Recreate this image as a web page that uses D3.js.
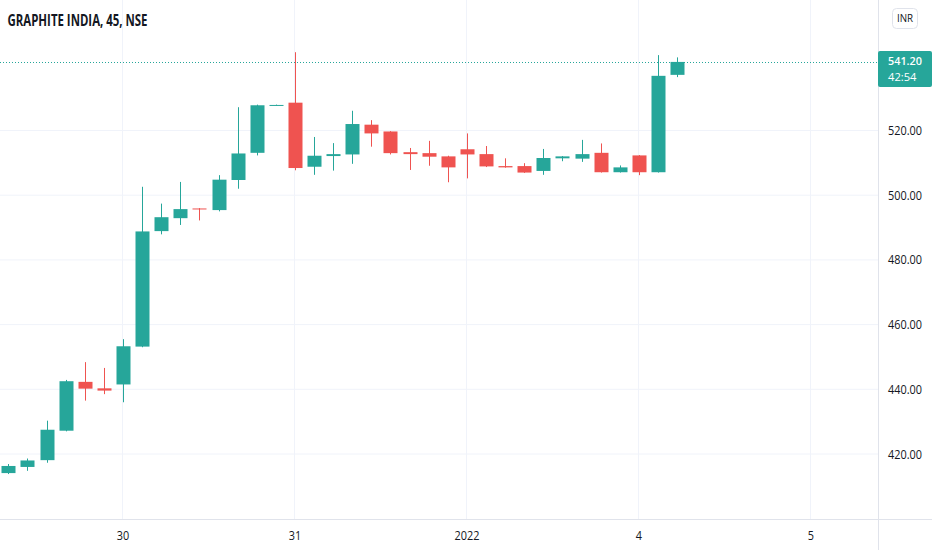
<!DOCTYPE html>
<html>
<head>
<meta charset="utf-8">
<script src="https://cdn.jsdelivr.net/npm/d3@7"></script>
<style>
  body { margin: 0; background: #fff; }
  svg { display: block; font-family: "Open Sans", "Noto Sans", sans-serif; }
</style>
</head>
<body>
<svg id="chart" width="932" height="550"></svg>
<script>
// 45 minute bars, GRAPHITE INDIA (NSE), 29 Dec 2021 -> 4 Jan 2022
const bars = [
  "29 12:15", "29 13:00", "29 13:45", "29 14:30", "29 15:15", "29 16:00",
  "30 09:15", "30 10:00", "30 10:45", "30 11:30", "30 12:15", "30 13:00", "30 13:45", "30 14:30", "30 15:15",
  "31 09:15", "31 10:00", "31 10:45", "31 11:30", "31 12:15", "31 13:00", "31 13:45", "31 14:30", "31 15:15",
  "03 09:15", "03 10:00", "03 10:45", "03 11:30", "03 12:15", "03 13:00", "03 13:45", "03 14:30", "03 15:15",
  "04 09:15", "04 10:00", "04 10:45"
];
const open  = [414.1, 416.0, 418.1, 427.2, 442.3, 440.3,
  441.5, 453.2, 488.9, 492.9, 495.9, 495.4, 504.7, 513.1, 527.8,
  528.6, 508.8, 512.1, 512.6, 521.8, 519.7, 513.3, 513.0, 512.0,
  514.2, 512.7, 509.0, 509.0, 507.5, 511.4, 511.3, 513.1, 507.1,
  512.3, 507.1, 537.2];
const high  = [416.9, 418.6, 430.3, 442.9, 448.4, 446.6,
  455.5, 502.6, 497.4, 504.1, 496.0, 506.2, 527.2, 528.0, 528.0,
  544.2, 518.0, 516.1, 526.1, 523.2, 519.8, 514.6, 516.8, 512.2,
  519.1, 515.2, 511.4, 509.9, 514.3, 512.1, 517.1, 516.0, 509.2,
  512.4, 543.3, 542.6];
const low   = [413.8, 414.8, 417.3, 427.0, 436.5, 438.5,
  436.0, 453.0, 487.9, 490.8, 492.2, 495.0, 502.0, 512.3, 527.7,
  507.7, 506.3, 507.6, 509.7, 515.0, 512.6, 507.8, 509.1, 504.0,
  505.2, 508.7, 508.5, 506.9, 506.3, 510.5, 510.3, 507.0, 507.0,
  506.2, 507.0, 536.5];
const close = [416.3, 418.0, 427.5, 442.5, 440.2, 439.6,
  453.3, 488.8, 493.2, 495.7, 495.6, 504.8, 512.9, 527.8, 527.9,
  508.4, 512.2, 512.7, 522.0, 519.1, 513.0, 512.7, 511.9, 508.6,
  512.6, 508.9, 508.6, 507.0, 511.5, 512.0, 512.7, 507.1, 508.6,
  507.1, 536.9, 541.2];

// day ticks: bar index of first session bar, label
const dayTicks = [6, 15, 24, 33, 42];
const dayLabels = ["30", "31", "2022", "4", "5"];
const priceTicks = [420, 440, 460, 480, 500, 520];
const lastPrice = 541.2;
const countdown = "42:54";

const up = "#26a69a", down = "#ef5350";
const W = 932, H = 550, plotR = 878, plotB = 519;

const svg = d3.select("#chart");

const x = d3.scaleLinear().domain([0, 42]).range([8.3, 810.9]);
const y = d3.scaleLinear().domain([420, 520]).range([454, 130.5]);

// narrow the glyphs a little, like the chart's own UI font
function squeeze(sel, k) {
  sel.each(function () {
    const w = this.getComputedTextLength();
    d3.select(this).attr("textLength", w * k).attr("lengthAdjust", "spacingAndGlyphs");
  });
}

// grid
svg.append("g").selectAll("line").data(priceTicks).join("line")
  .attr("x1", 0).attr("x2", plotR)
  .attr("y1", d => y(d)).attr("y2", d => y(d))
  .attr("stroke", "#f0f3fa").attr("stroke-width", 1);
svg.append("g").selectAll("line").data(dayTicks).join("line")
  .attr("x1", d => Math.round(x(d)) - 0.5).attr("x2", d => Math.round(x(d)) - 0.5)
  .attr("y1", 0).attr("y2", plotB)
  .attr("stroke", "#f0f3fa").attr("stroke-width", 1);

// axis borders
svg.append("line").attr("x1", 0).attr("x2", W).attr("y1", plotB + 0.5).attr("y2", plotB + 0.5)
  .attr("stroke", "#e0e3eb");
svg.append("line").attr("x1", plotR + 0.5).attr("x2", plotR + 0.5).attr("y1", 0).attr("y2", H)
  .attr("stroke", "#e0e3eb");

// last price line
svg.append("line")
  .attr("x1", 0).attr("x2", plotR)
  .attr("y1", Math.round(y(lastPrice)) + 0.5).attr("y2", Math.round(y(lastPrice)) + 0.5)
  .attr("stroke", up).attr("stroke-width", 1).attr("stroke-dasharray", "1,2");

// candles
const idx = d3.range(bars.length);
const candle = svg.append("g").selectAll("g").data(idx).join("g");
const col = i => close[i] >= open[i] ? up : down;
candle.append("line")
  .attr("x1", i => Math.round(x(i)) + 0.5).attr("x2", i => Math.round(x(i)) + 0.5)
  .attr("y1", i => y(high[i])).attr("y2", i => y(low[i]))
  .attr("stroke", col).attr("stroke-width", 1);
candle.append("rect")
  .attr("x", i => Math.round(x(i)) - 6.5)
  .attr("width", 14)
  .attr("y", i => y(Math.max(open[i], close[i])))
  .attr("height", i => Math.max(1, Math.abs(y(open[i]) - y(close[i]))))
  .attr("fill", col);

// x labels
svg.append("g").selectAll("text").data(dayTicks).join("text")
  .attr("x", d => x(d)).attr("y", 539.5)
  .attr("text-anchor", "middle")
  .attr("font-size", 12.5).attr("fill", "#131722")
  .text((d, i) => dayLabels[i])
  .call(squeeze, 0.87);

// y labels
svg.append("g").selectAll("text").data(priceTicks).join("text")
  .attr("x", 888).attr("y", d => y(d) + 4.5)
  .attr("font-size", 12.5).attr("fill", "#131722")
  .text(d => d.toFixed(2))
  .call(squeeze, 0.87);

// last price label
svg.append("rect").attr("x", 878).attr("y", 51).attr("width", 54).attr("height", 36)
  .attr("rx", 2).attr("fill", up);
svg.append("text").attr("x", 888).attr("y", 65)
  .attr("font-size", 11).attr("font-weight", 600).attr("fill", "#fff")
  .attr("textLength", 34).attr("lengthAdjust", "spacingAndGlyphs")
  .text(lastPrice.toFixed(2));
svg.append("text").attr("x", 888).attr("y", 80.5)
  .attr("font-size", 11).attr("fill", "#fff")
  .attr("textLength", 28.5).attr("lengthAdjust", "spacingAndGlyphs")
  .text(countdown);

// currency button
svg.append("rect").attr("x", 892.5).attr("y", 8.5).attr("width", 25).attr("height", 20)
  .attr("rx", 4).attr("fill", "#fff").attr("stroke", "#e0e3eb");
svg.append("text").attr("x", 905).attr("y", 22).attr("text-anchor", "middle")
  .attr("font-size", 11.5).attr("fill", "#131722").text("INR")
  .call(squeeze, 0.85);

// title
svg.append("text").attr("x", 7.5).attr("y", 25.5)
  .attr("font-size", 16).attr("font-weight", 700).attr("fill", "#131722")
  .attr("textLength", 140).attr("lengthAdjust", "spacingAndGlyphs")
  .text("GRAPHITE INDIA, 45, NSE");
</script>
</body>
</html>
